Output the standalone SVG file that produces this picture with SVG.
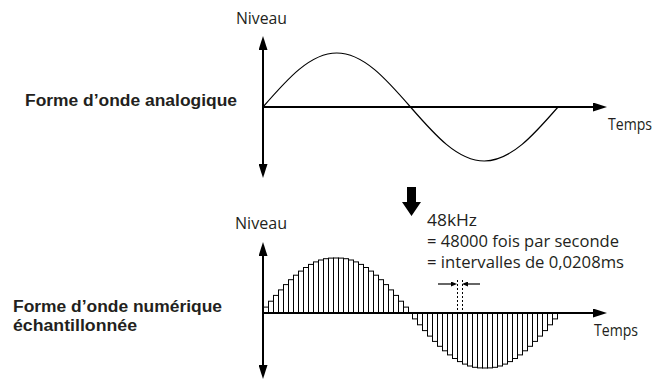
<svg xmlns="http://www.w3.org/2000/svg" width="658" height="383" viewBox="0 0 658 383">
<style>
.t{font-family:"Open Sans","Noto Sans","Liberation Sans",sans-serif;font-size:16px;fill:#231f20}
.b{font-family:"Liberation Sans",Arial,sans-serif;font-size:16px;font-weight:bold;fill:#231f20}
.axis{stroke:#000;stroke-width:2;fill:none}
.wave{stroke:#000;stroke-width:1.2;fill:none}
.bar rect{fill:#fff;stroke:#000;stroke-width:1}
.dot{stroke:#000;stroke-width:1;stroke-dasharray:2,2}
.small{stroke:#000;stroke-width:1.2}
</style>
<defs>
<marker id="ah" viewBox="0 -4.5 14 9" refX="4" refY="0" markerWidth="14" markerHeight="9" markerUnits="userSpaceOnUse" orient="auto-start-reverse">
<path d="M0,-4.5 L14,0 L0,4.5 z" fill="#000"/>
</marker>
<marker id="sah" viewBox="0 -2.5 6 5" refX="2" refY="0" markerWidth="6" markerHeight="5" markerUnits="userSpaceOnUse" orient="auto">
<path d="M0,-2.5 L6,0 L0,2.5 z" fill="#000"/>
</marker>
</defs>

<g id="analog">
<text class="b" x="25" y="106" textLength="212" lengthAdjust="spacingAndGlyphs">Forme d’onde analogique</text>
<text class="t" x="236" y="24" textLength="51" lengthAdjust="spacingAndGlyphs">Niveau</text>
<text class="t" x="608" y="130" textLength="44" lengthAdjust="spacingAndGlyphs">Temps</text>
<path class="wave" d="M263,107 C287.05,79.34 310.06,53 336.75,53 C363.44,53 386.45,79.34 410.5,107 C434.55,134.66 457.56,161 484.25,161 C510.94,161 533.95,134.66 558,107"/>
</g>

<g id="convert">
<polygon points="407,187 416,187 416,202 421,202 411.5,216 402,202 407,202" fill="#000"/>
<text class="t" x="427" y="226" textLength="50" lengthAdjust="spacingAndGlyphs">48kHz</text>
<text class="t" x="427" y="247" textLength="192" lengthAdjust="spacingAndGlyphs">= 48000 fois par seconde</text>
<text class="t" x="427" y="268" textLength="197" lengthAdjust="spacingAndGlyphs">= intervalles de 0,0208ms</text>
</g>

<g id="digital">
<text class="b" x="13" y="312" textLength="209" lengthAdjust="spacingAndGlyphs">Forme d’onde numérique</text>
<text class="b" x="13" y="331" textLength="124" lengthAdjust="spacingAndGlyphs">échantillonnée</text>
<text class="t" x="235" y="229" textLength="52" lengthAdjust="spacingAndGlyphs">Niveau</text>
<text class="t" x="594" y="336" textLength="44" lengthAdjust="spacingAndGlyphs">Temps</text>
<g class="bar">
<rect x="263.5" y="307.1" width="5" height="5.9"/>
<rect x="268.5" y="301.2" width="5" height="11.8"/>
<rect x="273.5" y="295.4" width="5" height="17.6"/>
<rect x="278.5" y="289.9" width="5" height="23.1"/>
<rect x="283.5" y="284.6" width="5" height="28.4"/>
<rect x="288.5" y="279.7" width="5" height="33.3"/>
<rect x="293.5" y="275.2" width="5" height="37.8"/>
<rect x="298.5" y="271.1" width="5" height="41.9"/>
<rect x="303.5" y="267.5" width="5" height="45.5"/>
<rect x="308.5" y="264.4" width="5" height="48.6"/>
<rect x="313.5" y="261.9" width="5" height="51.1"/>
<rect x="318.5" y="260.0" width="5" height="53.0"/>
<rect x="323.5" y="258.7" width="5" height="54.3"/>
<rect x="328.5" y="258.1" width="5" height="54.9"/>
<rect x="333.5" y="258.0" width="5" height="55"/>
<rect x="338.5" y="258.1" width="5" height="54.9"/>
<rect x="343.5" y="258.7" width="5" height="54.3"/>
<rect x="348.5" y="260.0" width="5" height="53.0"/>
<rect x="353.5" y="261.9" width="5" height="51.1"/>
<rect x="358.5" y="264.4" width="5" height="48.6"/>
<rect x="363.5" y="267.5" width="5" height="45.5"/>
<rect x="368.5" y="271.1" width="5" height="41.9"/>
<rect x="373.5" y="275.2" width="5" height="37.8"/>
<rect x="378.5" y="279.7" width="5" height="33.3"/>
<rect x="383.5" y="284.6" width="5" height="28.4"/>
<rect x="388.5" y="289.9" width="5" height="23.1"/>
<rect x="393.5" y="295.4" width="5" height="17.6"/>
<rect x="398.5" y="301.2" width="5" height="11.8"/>
<rect x="403.5" y="307.1" width="5" height="5.9"/>
<rect x="412.5" y="313" width="5" height="5.9"/>
<rect x="417.5" y="313" width="5" height="11.8"/>
<rect x="422.5" y="313" width="5" height="17.6"/>
<rect x="427.5" y="313" width="5" height="23.1"/>
<rect x="432.5" y="313" width="5" height="28.4"/>
<rect x="437.5" y="313" width="5" height="33.3"/>
<rect x="442.5" y="313" width="5" height="37.8"/>
<rect x="447.5" y="313" width="5" height="41.9"/>
<rect x="452.5" y="313" width="5" height="45.5"/>
<rect x="457.5" y="313" width="5" height="48.6"/>
<rect x="462.5" y="313" width="5" height="51.1"/>
<rect x="467.5" y="313" width="5" height="53.0"/>
<rect x="472.5" y="313" width="5" height="54.3"/>
<rect x="477.5" y="313" width="5" height="54.9"/>
<rect x="482.5" y="313" width="5" height="55"/>
<rect x="487.5" y="313" width="5" height="54.9"/>
<rect x="492.5" y="313" width="5" height="54.3"/>
<rect x="497.5" y="313" width="5" height="53.0"/>
<rect x="502.5" y="313" width="5" height="51.1"/>
<rect x="507.5" y="313" width="5" height="48.6"/>
<rect x="512.5" y="313" width="5" height="45.5"/>
<rect x="517.5" y="313" width="5" height="41.9"/>
<rect x="522.5" y="313" width="5" height="37.8"/>
<rect x="527.5" y="313" width="5" height="33.3"/>
<rect x="532.5" y="313" width="5" height="28.4"/>
<rect x="537.5" y="313" width="5" height="23.1"/>
<rect x="542.5" y="313" width="5" height="17.6"/>
<rect x="547.5" y="313" width="5" height="11.8"/>
<rect x="552.5" y="313" width="5" height="5.9"/>
</g>
<line class="dot" x1="457.5" y1="280" x2="457.5" y2="313"/>
<line class="dot" x1="462.5" y1="280" x2="462.5" y2="313"/>
</g>

<g id="connectors">
<line class="axis" x1="263" y1="46" x2="263" y2="168" marker-start="url(#ah)" marker-end="url(#ah)"/>
<line class="axis" x1="263" y1="107" x2="597" y2="107" marker-end="url(#ah)"/>
<line class="axis" x1="263" y1="252" x2="263" y2="369" marker-start="url(#ah)" marker-end="url(#ah)"/>
<line class="axis" x1="263" y1="313" x2="597" y2="313" marker-end="url(#ah)"/>
<line class="small" x1="438" y1="284" x2="453" y2="284" marker-end="url(#sah)"/>
<line class="small" x1="480" y1="284" x2="466" y2="284" marker-end="url(#sah)"/>
</g>
</svg>
